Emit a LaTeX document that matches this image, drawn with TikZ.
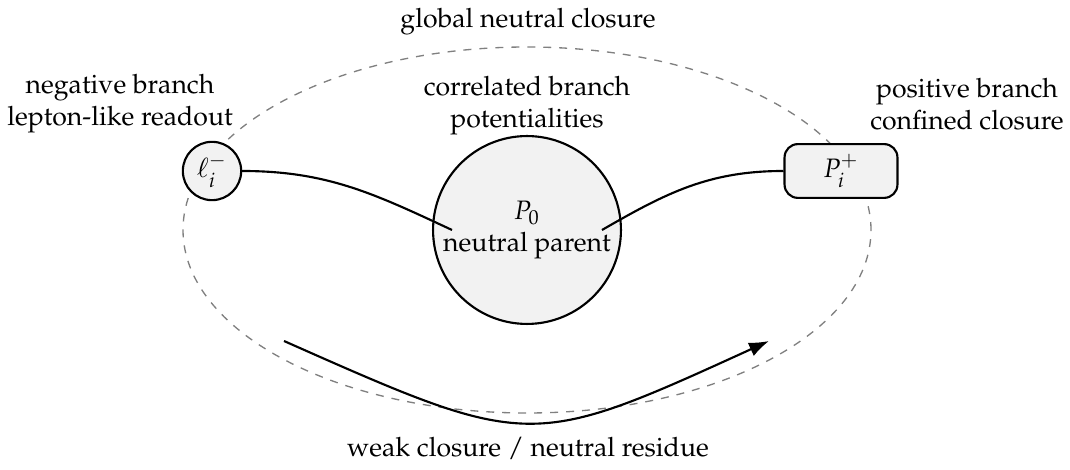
\documentclass[tikz,border=0pt]{standalone}
\usepackage[T1]{fontenc}
\usepackage{mathpazo}
\usetikzlibrary{arrows.meta}
\begin{document}
\begin{tikzpicture}[x=0.0132cm,y=0.0132cm,
  nodo/.style={draw,thick,fill=black!5,inner sep=0pt},
  etiqueta/.style={align=center}]
  \useasboundingbox (0,0) rectangle (1070,470);
  % Cierre neutro global
  \draw[dashed,black!50,line width=0.5pt] (527,240) ellipse [x radius=344,y radius=183];
  % Nodos
  \node[nodo,circle,minimum size=2.48cm,align=center] (p0) at (527,240) {$P_0$\\neutral parent};
  \node[nodo,circle,minimum size=0.77cm] (lm) at (212,299) {$\ell_i^-$};
  \node[nodo,rounded corners=5pt,minimum width=1.49cm,minimum height=0.71cm] (pp) at (841,299) {$P_i^+$};
  % Puntos de entrada en el padre
  \coordinate (p0l) at (452,240);
  \coordinate (p0r) at (602,240);
  % Ramas
  \draw[thick] (lm.east) to[out=0,in=155] (p0l);
  \draw[thick] (pp.west) to[out=180,in=30] (p0r);
  % Etiquetas
  \node[etiqueta] (tglobal) at (528,448) {global neutral closure};
  \node[etiqueta] (tneg) at (120,366) {negative branch\\lepton-like readout};
  \node[etiqueta] (tcorr) at (527,364) {correlated branch\\potentialities};
  \node[etiqueta] (tpos) at (967,366) {positive branch\\confined closure};
  % Cierre debil
  \coordinate (wa) at (284,129);
  \coordinate (wb) at (769,129);
  \draw[thick,-{Latex[length=7.5pt,width=5.5pt]}] (wa) .. controls (530,20) and (530,20) .. (wb);
  \node[etiqueta] (tweak) at (528,22) {weak closure / neutral residue};
\end{tikzpicture}
\end{document}
